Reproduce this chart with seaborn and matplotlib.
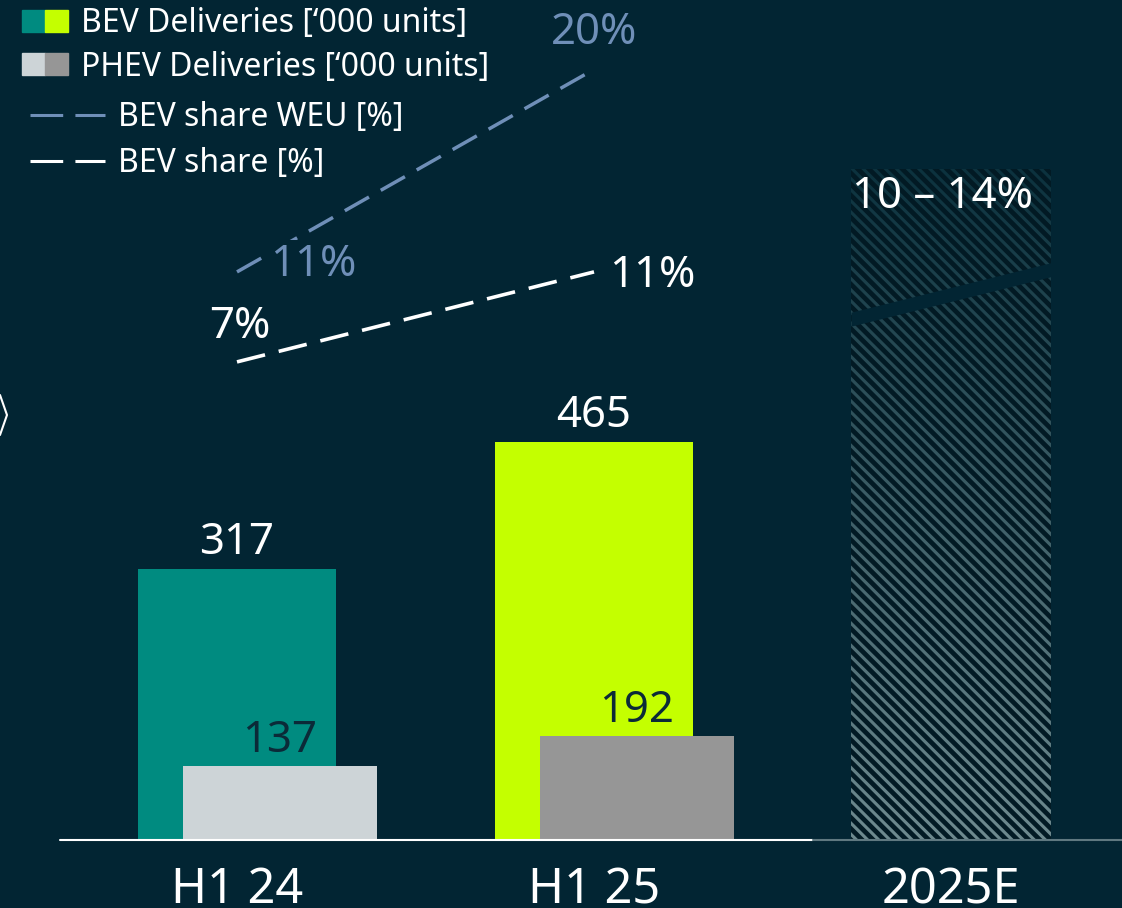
import numpy as np
import seaborn as sns
import matplotlib.pyplot as plt
from matplotlib.colors import LinearSegmentedColormap
from matplotlib.lines import Line2D
from matplotlib.patches import Patch
from matplotlib.legend_handler import HandlerTuple

# ----------------------
# Data
# ----------------------
periods = ["H1 24", "H1 25", "2025E"]
bev_deliveries = [317, 465]          # '000 units
phev_deliveries = [137, 192]         # '000 units
bev_share = [7, 11]                  # %
bev_share_weu = [11, 20]             # %
forecast_label = "10 \u2013 14%"
forecast_height = 785                # height of the hatched 2025E bar (BEV scale)
forecast_band = [8.9, 11.1]          # dark cut through the 2025E bar (% scale)

# ----------------------
# Style
# ----------------------
BG = "#022533"
TEAL = "#008B80"
LIME = "#C4FF00"
LIGHT_GREY = "#CDD4D7"
GREY = "#969696"
BLUE = "#6F8FB8"
DARK_TXT = "#0B2A38"
STRIPE = "#021A24"

sns.set_theme(style="white")
plt.rcParams["font.family"] = ["Noto Sans", "DejaVu Sans"]
plt.rcParams["hatch.linewidth"] = 3.4
plt.rcParams["hatch.color"] = STRIPE

W, H = 1122, 908
fig = plt.figure(figsize=(W / 100, H / 100), dpi=100)
fig.patch.set_facecolor(BG)

base_px = 840
ax = fig.add_axes([0, (H - base_px) / H, 1, base_px / H])
ax.set_facecolor(BG)

# x mapping: category 0 at 237 px, 357 px per category
xl = (-237 / 357, (W - 237) / 357)

# BEV bars
sns.barplot(x=periods[:2], y=bev_deliveries, hue=periods[:2], palette=[TEAL, LIME],
            width=0.557, saturation=1, legend=False, edgecolor="none", linewidth=0, ax=ax)

# 2025E forecast bar: gradient + hatch
fx0, fx1 = 2 - 0.28, 2 + 0.28
grad = LinearSegmentedColormap.from_list("fc", ["#6E8A8F", "#0C323E"])
clip_bar = ax.bar(2, forecast_height, width=0.56, color="none", lw=0)[0]
img = ax.imshow(np.linspace(0, 1, 256).reshape(-1, 1), cmap=grad, origin="lower",
                extent=[fx0, fx1, 0, forecast_height], aspect="auto", zorder=1)
img.set_clip_path(clip_bar)
ax.bar(2, forecast_height, width=0.56, facecolor="none", edgecolor=STRIPE,
       hatch="\\\\\\", lw=0, zorder=2)

ax.set_xlim(*xl)
ax.set_ylim(0, base_px / 0.855)

# PHEV bars on own scale
ax2 = ax.twinx()
sns.barplot(x=np.arange(2) + 0.12, y=phev_deliveries, hue=periods[:2],
            palette=[LIGHT_GREY, GREY], native_scale=True, dodge=False,
            width=0.543, saturation=1, legend=False, edgecolor="none", linewidth=0, ax=ax2)
ax2.set_xlim(*xl)
ax2.set_ylim(0, base_px / 0.54)

# share lines on % scale
ax3 = ax.twinx()
sns.lineplot(x=[0, 1], y=bev_share_weu, color=BLUE, lw=2.5, ax=ax3, legend=False)
sns.lineplot(x=[0, 1], y=bev_share, color="white", lw=2.6, ax=ax3, legend=False)
for ln in ax3.lines:
    ln.set_dashes((8, 3.9))
    ln.set_dash_capstyle("butt")

band_half = 0.31
ax3.fill_between([fx0, fx1], [forecast_band[0] - band_half, forecast_band[1] - band_half],
                 [forecast_band[0] + band_half, forecast_band[1] + band_half],
                 color=BG, lw=0, zorder=3)
pct_zero = 320.6
ax3.set_ylim(-pct_zero / 22.5, (base_px - pct_zero) / 22.5)
ax3.set_xlim(*xl)

for a in (ax, ax2, ax3):
    for s in a.spines.values():
        s.set_visible(False)
    a.set_yticks([])
    a.set_ylabel("")
    a.tick_params(length=0)

ax2.set_xticks([])
ax3.set_xticks([])
ax.set_xticks([0, 1, 2])
ax.set_xticklabels(periods, color="white", fontsize=35)
ax.tick_params(axis="x", pad=18)
ax.set_xlabel("")

# ----------------------
# Labels
# ----------------------
VAL = 31.5
for i, v in enumerate(bev_deliveries):
    ax.annotate(f"{v}", (i, v), xytext=(0, 11), textcoords="offset points",
                ha="center", va="baseline", color="white", fontsize=VAL)
for i, v in enumerate(phev_deliveries):
    ax2.annotate(f"{v}", (i + 0.12, v), xytext=(0, 10), textcoords="offset points",
                 ha="center", va="baseline", color=DARK_TXT, fontsize=VAL)

ax3.annotate(f"{bev_share[0]}%", (0, bev_share[0]), xytext=(2, 17), textcoords="offset points",
             ha="center", va="baseline", color="white", fontsize=VAL)
ax3.annotate(f"{bev_share[1]}%", (1, bev_share[1]), xytext=(11, -11), textcoords="offset points",
             ha="left", va="baseline", color="white", fontsize=VAL)
ax3.annotate(f"{bev_share_weu[0]}%", (0, bev_share_weu[0]), xytext=(24, -3), textcoords="offset points",
             ha="left", va="baseline", color=BLUE, fontsize=VAL,
             bbox=dict(fc=BG, ec="none", pad=2))
ax3.annotate(f"{bev_share_weu[1]}%", (1, bev_share_weu[1]), xytext=(0, 18), textcoords="offset points",
             ha="center", va="baseline", color=BLUE, fontsize=VAL)
ax.annotate(forecast_label, (2, forecast_height), xytext=(-6, -28), textcoords="offset points",
            ha="center", va="baseline", color="white", fontsize=VAL, zorder=6)

# baseline
fig.add_artist(Line2D([60 / W, 813 / W], [(H - base_px) / H] * 2, color="white", lw=1.5))
fig.add_artist(Line2D([813 / W, 1], [(H - base_px) / H] * 2, color="#5F7880", lw=1.5))
# chevron cut at left edge
fig.add_artist(Line2D([0, 7 / W, 0], [1 - 395 / H, 1 - 415 / H, 1 - 435 / H], color="white", lw=1.5))

# ----------------------
# Legends
# ----------------------
bar_handles = [(Patch(color=TEAL), Patch(color=LIME)),
               (Patch(color=LIGHT_GREY), Patch(color=GREY))]
leg1 = fig.legend(bar_handles, ["BEV Deliveries [\u2018000 units]", "PHEV Deliveries [\u2018000 units]"],
                  handler_map={tuple: HandlerTuple(ndivide=None, pad=0)},
                  loc="upper left", bbox_to_anchor=(22 / W, 1 - 7 / H), frameon=False,
                  fontsize=23, labelcolor="white", handlelength=1.44, handleheight=0.69,
                  handletextpad=0.4, labelspacing=0.33, borderpad=0, borderaxespad=0)
line_handles = [Line2D([0], [0], color=BLUE, lw=2.2, dashes=(10.7, 4)),
                Line2D([0], [0], color="white", lw=2.2, dashes=(10.7, 4))]
leg2 = fig.legend(line_handles, ["BEV share WEU [%]", "BEV share [%]"],
                  loc="upper left", bbox_to_anchor=(30 / W, 1 - 101 / H), frameon=False,
                  fontsize=23, labelcolor="white", handlelength=2.34,
                  handletextpad=0.4, labelspacing=0.42, borderpad=0, borderaxespad=0)

plt.savefig("out.png", dpi=100, facecolor=BG)
